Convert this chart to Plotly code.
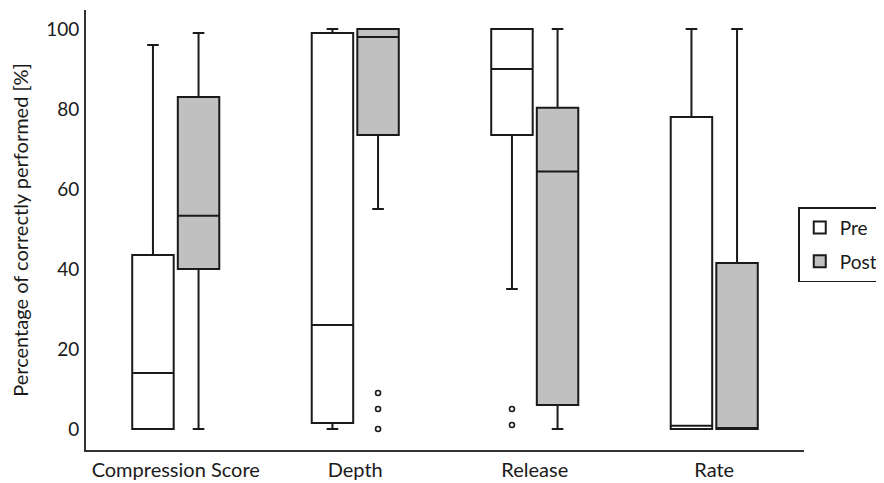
import numpy as np
import plotly.graph_objects as go

categories = ["Compression Score", "Depth", "Release", "Rate"]

pre_q1 = [0, 1.5, 73.5, 0]
pre_median = [14, 26, 90, 0.8]
pre_q3 = [43.5, 99, 100, 78]
pre_lower = [0, 0, 35, 0]
pre_upper = [96, 100, 100, 100]

post_q1 = [40, 73.5, 6, 0]
post_median = [53.3, 98, 64.4, 0]
post_q3 = [83, 100, 80.3, 41.5]
post_lower = [0, 55, 0, 0]
post_upper = [99, 100, 100, 100]

pre_outlier_cat = ["Release", "Release"]
pre_outlier_val = [5, 1]
post_outlier_cat = ["Depth", "Depth", "Depth"]
post_outlier_val = [9, 5, 0]

y_ticks = [0, 20, 40, 60, 80, 100]

idx = np.arange(len(categories))
offset = 0.127
bw = 0.231
FONT = "Lato"
INK = "#1a1a1a"

fig = go.Figure()
fig.add_trace(go.Box(
    name="Pre", x=idx - offset, q1=pre_q1, median=pre_median, q3=pre_q3,
    lowerfence=pre_lower, upperfence=pre_upper, width=bw,
    fillcolor="white", line=dict(color=INK, width=2),
    whiskerwidth=0.28, boxpoints=False, legendgroup="pre",
))
fig.add_trace(go.Box(
    name="Post", x=idx + offset, q1=post_q1, median=post_median, q3=post_q3,
    lowerfence=post_lower, upperfence=post_upper, width=bw,
    fillcolor="#c0c0c0", line=dict(color=INK, width=2),
    whiskerwidth=0.28, boxpoints=False, legendgroup="post",
))
fig.add_trace(go.Scatter(
    x=[categories.index(c) - offset for c in pre_outlier_cat], y=pre_outlier_val,
    mode="markers", marker=dict(symbol="circle-open", size=5, color=INK, line=dict(width=1.6)),
    showlegend=False, hoverinfo="y",
))
fig.add_trace(go.Scatter(
    x=[categories.index(c) + offset for c in post_outlier_cat], y=post_outlier_val,
    mode="markers", marker=dict(symbol="circle-open", size=5, color=INK, line=dict(width=1.6)),
    showlegend=False, hoverinfo="y",
))

fig.update_layout(
    width=876, height=475,
    margin=dict(l=78, r=80, t=2, b=33, autoexpand=False),
    paper_bgcolor="white", plot_bgcolor="white",
    font=dict(family=FONT, size=19, color=INK),
    legend=dict(
        x=0.992, xanchor="left", y=0.552, yanchor="top",
        bordercolor=INK, borderwidth=1.5, bgcolor="white",
        font=dict(family=FONT, size=19, color=INK),
        tracegroupgap=6, itemwidth=30,
    ),
    xaxis=dict(
        range=[-0.5, 3.5], tickvals=list(idx), ticktext=categories,
        showline=True, linecolor="#333333", linewidth=2, showgrid=False, zeroline=False,
        ticks="", ticklabelstandoff=1, tickfont=dict(size=20),
    ),
    yaxis=dict(
        range=[-5.25, 104.75], tickvals=y_ticks,
        showline=True, linecolor="#333333", linewidth=2, showgrid=False, zeroline=False,
        ticks="", ticklabelstandoff=1, tickfont=dict(size=19),
        title=dict(text="Percentage of correctly performed [%]", font=dict(size=20), standoff=14),
    ),
)

fig.write_html("out.html")
